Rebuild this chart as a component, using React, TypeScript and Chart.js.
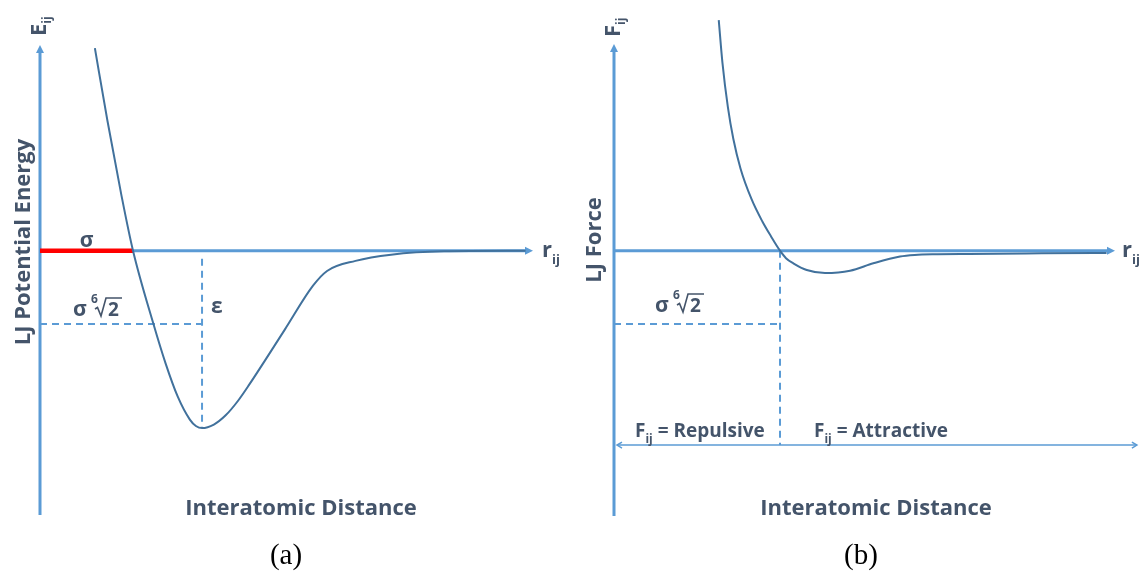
import React, { useEffect, useRef } from 'react';
import { Chart, registerables } from 'chart.js';

Chart.register(...registerables);

// ---- Panel (a): Lennard-Jones potential energy (r in units of σ, E in units of ε)
const energyR = [0.59, 0.725, 0.876, 1.0, 1.219, 1.35, 1.481, 1.611, 1.676, 1.742, 1.869, 1.996, 2.123, 2.249, 2.63, 2.935, 3.086, 3.392, 3.774, 4.344, 5.22];
const energyE = [1.142, 0.733, 0.311, 0, -0.412, -0.635, -0.823, -0.952, -0.988, -1, -0.98, -0.928, -0.85, -0.755, -0.446, -0.197, -0.114, -0.057, -0.022, -0.003, 0];
const SIGMA = 1.0;
const E_GUIDE = -0.413; // height of the σ·⁶√2 guide line
const E_LIMITS = [-1.49, 1.16];
const R_LIMITS_A = [0, 5.3];

// ---- Panel (b): Lennard-Jones force
const forceR = [0.631, 0.653, 0.686, 0.719, 0.762, 0.828, 0.893, 0.946, 1.0, 1.036, 1.08, 1.161, 1.271, 1.422, 1.562, 1.723, 1.811, 1.95, 2.139, 2.577, 2.967];
const forceF = [10.34, 8.45, 6.44, 5.01, 3.69, 2.32, 1.32, 0.64, 0, -0.336, -0.565, -0.865, -1.0, -0.897, -0.565, -0.26, -0.19, -0.16, -0.145, -0.12, -0.1];
const F_GUIDE = -3.29;
const F_REGION = -8.72; // level of the repulsive / attractive arrow
const REGION_SPAN = [0.018, 3.15];
const F_LIMITS = [-11.9, 9.27];
const R_LIMITS_B = [0, 3.018];

const AXIS = '#5B9BD5';
const CURVE = '#41719C';
const TEXT = '#44546A';
const RED = '#FF0000';
const SANS = "'Open Sans', Lato, sans-serif";
const SERIF = "'Liberation Serif', 'DejaVu Serif', serif";

const R_MIN = energyR[energyE.indexOf(Math.min(...energyE))];
const R_ZERO_FORCE = forceR[forceF.indexOf(0)];

type Run = { t: string; font: string; dy?: number };

function drawRuns(ctx: CanvasRenderingContext2D, runs: Run[], x: number, y: number) {
  let cx = x;
  ctx.textAlign = 'left';
  ctx.textBaseline = 'alphabetic';
  for (const r of runs) {
    ctx.font = r.font;
    ctx.fillText(r.t, cx, y + (r.dy || 0));
    cx += ctx.measureText(r.t).width;
  }
}

function drawRotatedRuns(ctx: CanvasRenderingContext2D, runs: Run[], baseX: number, startY: number) {
  ctx.save();
  ctx.translate(baseX, startY);
  ctx.rotate(-Math.PI / 2);
  drawRuns(ctx, runs, 0, 0);
  ctx.restore();
}

function drawRotatedCentered(ctx: CanvasRenderingContext2D, text: string, font: string, baseX: number, centerY: number) {
  ctx.save();
  ctx.translate(baseX, centerY);
  ctx.rotate(-Math.PI / 2);
  ctx.font = font;
  ctx.textAlign = 'center';
  ctx.textBaseline = 'alphabetic';
  ctx.fillText(text, 0, 0);
  ctx.restore();
}

function arrowHead(ctx: CanvasRenderingContext2D, x: number, y: number, ang: number, len: number, half: number) {
  const c = Math.cos(ang);
  const s = Math.sin(ang);
  const bx = x - c * len;
  const by = y - s * len;
  ctx.beginPath();
  ctx.moveTo(x, y);
  ctx.lineTo(bx - s * half, by + c * half);
  ctx.lineTo(bx + s * half, by - c * half);
  ctx.closePath();
  ctx.fill();
}

function openArrow(ctx: CanvasRenderingContext2D, x: number, y: number, dir: number, len: number, half: number) {
  ctx.beginPath();
  ctx.moveTo(x - dir * len, y - half);
  ctx.lineTo(x, y);
  ctx.lineTo(x - dir * len, y + half);
  ctx.stroke();
}

const bold = (px: number) => `bold ${px}px ${SANS}`;

// σ ⁶√2 label with a drawn radical sign
function drawSixthRoot(ctx: CanvasRenderingContext2D, x: number, base: number) {
  ctx.fillStyle = TEXT;
  ctx.strokeStyle = TEXT;
  ctx.textAlign = 'left';
  ctx.textBaseline = 'alphabetic';
  ctx.font = bold(21);
  ctx.fillText('σ', x, base);
  ctx.font = bold(12);
  ctx.fillText('6', x + 18, base - 13);
  ctx.lineWidth = 1.6;
  ctx.lineJoin = 'miter';
  ctx.beginPath();
  ctx.moveTo(x + 22, base - 7);
  ctx.lineTo(x + 24.5, base - 8.5);
  ctx.lineTo(x + 28, base);
  ctx.lineTo(x + 33, base - 18);
  ctx.lineTo(x + 49, base - 18);
  ctx.stroke();
  ctx.font = bold(19);
  ctx.fillText('2', x + 35, base);
}

function drawAxes(chart: any) {
  const { ctx, chartArea: a, scales } = chart;
  const y0 = scales.y.getPixelForValue(0);
  ctx.save();
  ctx.strokeStyle = AXIS;
  ctx.fillStyle = AXIS;
  ctx.lineWidth = 3;
  ctx.beginPath();
  ctx.moveTo(a.left, a.bottom);
  ctx.lineTo(a.left, a.top + 6);
  ctx.stroke();
  arrowHead(ctx, a.left, a.top, -Math.PI / 2, 8, 4);
  ctx.beginPath();
  ctx.moveTo(a.left, y0);
  ctx.lineTo(a.right - 6, y0);
  ctx.stroke();
  arrowHead(ctx, a.right, y0, 0, 8, 4);
  ctx.restore();
}

const energyPlugin = {
  id: 'energyDecor',
  beforeDatasetsDraw(chart: any) {
    drawAxes(chart);
  },
  afterDraw(chart: any) {
    const { ctx, chartArea: a, scales } = chart;
    const y0 = scales.y.getPixelForValue(0);
    ctx.save();
    ctx.fillStyle = TEXT;
    drawRotatedRuns(ctx, [{ t: 'E', font: bold(22) }, { t: 'ij', font: bold(12), dy: 5 }], 46, 36);
    drawRotatedCentered(ctx, 'LJ Potential Energy', bold(22), 30, 242);
    ctx.font = bold(21);
    ctx.textAlign = 'center';
    ctx.fillText('σ', (a.left + scales.x.getPixelForValue(SIGMA)) / 2, y0 - 4);
    drawSixthRoot(ctx, 73, 316);
    ctx.fillStyle = TEXT;
    drawRuns(ctx, [{ t: 'ε', font: bold(21) }], 211, 313);
    drawRuns(ctx, [{ t: 'r', font: bold(22) }, { t: 'ij', font: bold(13), dy: 7 }], a.right + 9, y0 + 6);
    ctx.font = bold(22);
    ctx.textAlign = 'center';
    ctx.fillText('Interatomic Distance', 301, 515);
    ctx.fillStyle = '#000';
    ctx.font = `29px ${SERIF}`;
    ctx.fillText('(a)', 286, 564);
    ctx.restore();
  },
};

const forcePlugin = {
  id: 'forceDecor',
  beforeDatasetsDraw(chart: any) {
    drawAxes(chart);
    const { ctx, scales } = chart;
    const yr = scales.y.getPixelForValue(F_REGION);
    const xl = scales.x.getPixelForValue(REGION_SPAN[0]);
    const xr = scales.x.getPixelForValue(REGION_SPAN[1]);
    ctx.save();
    ctx.strokeStyle = AXIS;
    ctx.lineWidth = 1.5;
    ctx.beginPath();
    ctx.moveTo(xl, yr);
    ctx.lineTo(xr, yr);
    ctx.stroke();
    openArrow(ctx, xl, yr, -1, 5, 3);
    openArrow(ctx, xr, yr, 1, 5, 3);
    ctx.restore();
  },
  afterDraw(chart: any) {
    const { ctx, chartArea: a, scales } = chart;
    const y0 = scales.y.getPixelForValue(0);
    ctx.save();
    ctx.fillStyle = TEXT;
    drawRotatedRuns(ctx, [{ t: 'F', font: bold(22) }, { t: 'ij', font: bold(12), dy: 5 }], 50, 37);
    drawRotatedCentered(ctx, 'LJ Force', bold(22), 31, 240);
    drawSixthRoot(ctx, 85, 312);
    ctx.fillStyle = TEXT;
    drawRuns(ctx, [{ t: 'r', font: bold(22) }, { t: 'ij', font: bold(13), dy: 7 }], a.right + 7, y0 + 6);
    drawRuns(ctx, [{ t: 'F', font: bold(19) }, { t: 'ij', font: bold(12), dy: 6 }, { t: ' = Repulsive', font: bold(19) }], 65, 437);
    drawRuns(ctx, [{ t: 'F', font: bold(19) }, { t: 'ij', font: bold(12), dy: 6 }, { t: ' = Attractive', font: bold(19) }], 244, 437);
    ctx.font = bold(22);
    ctx.textAlign = 'center';
    ctx.fillText('Interatomic Distance', 306, 515);
    ctx.fillStyle = '#000';
    ctx.font = `29px ${SERIF}`;
    ctx.fillText('(b)', 291, 564);
    ctx.restore();
  },
};

const pts = (xs: number[], ys: number[]) => xs.map((x, i) => ({ x, y: ys[i] }));

const dashed = (data: { x: number; y: number }[]) => ({
  data,
  borderColor: AXIS,
  borderWidth: 2,
  borderDash: [7, 5],
  pointRadius: 0,
  tension: 0,
  clip: false as const,
});

function baseOptions(xr: number[], yr: number[], padding: any) {
  return {
    animation: false as const,
    responsive: false,
    maintainAspectRatio: false,
    events: [] as any[],
    layout: { padding },
    plugins: { legend: { display: false }, title: { display: false }, tooltip: { enabled: false } },
    scales: {
      x: { type: 'linear' as const, min: xr[0], max: xr[1], display: false },
      y: { type: 'linear' as const, min: yr[0], max: yr[1], display: false },
    },
  };
}

export default function App() {
  const refA = useRef<HTMLCanvasElement>(null);
  const refB = useRef<HTMLCanvasElement>(null);

  useEffect(() => {
    const chartA = new Chart(refA.current!, {
      type: 'line',
      data: {
        datasets: [
          {
            data: pts(energyR, energyE),
            borderColor: CURVE,
            borderWidth: 2,
            pointRadius: 0,
            cubicInterpolationMode: 'monotone',
            clip: false,
          },
          {
            data: [{ x: 0, y: 0 }, { x: SIGMA, y: 0 }],
            borderColor: RED,
            borderWidth: 4.5,
            pointRadius: 0,
            clip: false,
          },
          dashed([{ x: 0, y: E_GUIDE }, { x: R_MIN, y: E_GUIDE }]),
          dashed([{ x: R_MIN, y: -0.045 }, { x: R_MIN, y: -1 }]),
        ],
      },
      options: baseOptions(R_LIMITS_A, E_LIMITS, { left: 40, top: 45, right: 37, bottom: 59 }) as any,
      plugins: [energyPlugin],
    });

    const chartB = new Chart(refB.current!, {
      type: 'line',
      data: {
        datasets: [
          {
            data: pts(forceR, forceF),
            borderColor: CURVE,
            borderWidth: 2,
            pointRadius: 0,
            cubicInterpolationMode: 'monotone',
            clip: false,
          },
          dashed([{ x: 0, y: F_GUIDE }, { x: R_ZERO_FORCE, y: F_GUIDE }]),
          dashed([{ x: R_ZERO_FORCE, y: 0 }, { x: R_ZERO_FORCE, y: F_REGION }]),
        ],
      },
      options: baseOptions(R_LIMITS_B, F_LIMITS, { left: 44, top: 44, right: 24, bottom: 58 }) as any,
      plugins: [forcePlugin],
    });

    return () => {
      chartA.destroy();
      chartB.destroy();
    };
  }, []);

  return (
    <div style={{ position: 'absolute', left: 0, top: 0, width: 1139, height: 574, background: '#fff' }}>
      <canvas ref={refA} width={570} height={574} style={{ position: 'absolute', left: 0, top: 0, width: 570, height: 574 }} />
      <canvas ref={refB} width={569} height={574} style={{ position: 'absolute', left: 570, top: 0, width: 569, height: 574 }} />
    </div>
  );
}
